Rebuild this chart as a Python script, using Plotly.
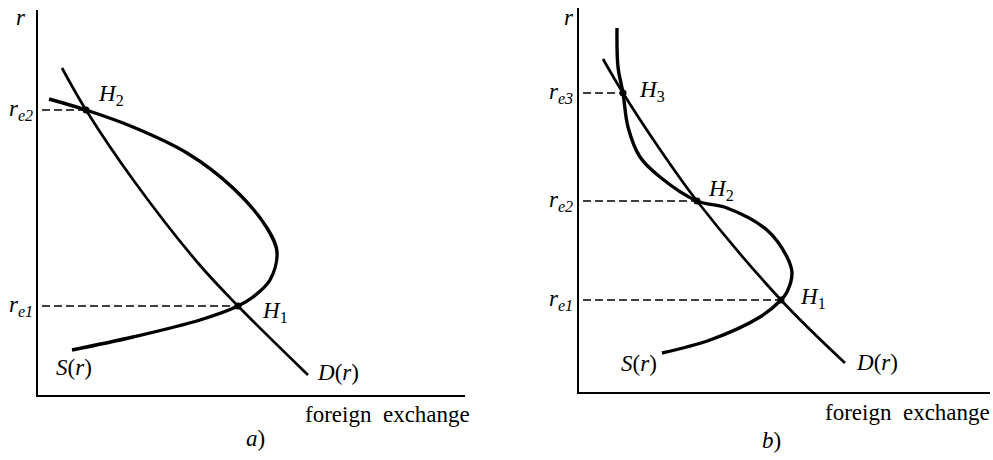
import plotly.graph_objects as go

W, H = 993, 460

# ---------------- data (conceptual units: foreign exchange, r) ----------------
# panel a)
a_D_x = [6, 12, 24, 40, 50, 67.5]
a_D_y = [81.75, 71.25, 53.5, 33, 22.25, 5]
a_S_x = [2.75, 12, 23.75, 37.25, 48.75, 57.25, 59.75, 58, 53.75, 50, 40.5, 23.75, 8.5]
a_S_y = [74, 71.25, 67, 60.5, 51.75, 41.75, 35.75, 28.75, 24.5, 22.25, 18.75, 14.5, 11.25]
a_eq_x = [50, 12]          # H1, H2
a_eq_r = [22.25, 71.25]    # r_e1, r_e2
a_eq_names = ["1", "2"]

# panel b)
b_D_x = [6, 11, 20, 29.5, 50.5, 66.5]
b_D_y = [83.25, 74.75, 61, 47.75, 23, 7.25]
b_S_x = [9.5, 9.75, 11, 12.25, 15.25, 20.25, 29.5, 37, 47, 52, 53.25, 52, 50.5, 45.25, 32.75, 20.75]
b_S_y = [91, 81.25, 74.75, 66.25, 58.75, 53.75, 47.75, 46, 40.5, 33.75, 29.75, 25, 23, 18.75, 13, 9.75]
b_eq_x = [50.5, 29.5, 11]      # H1, H2, H3
b_eq_r = [23, 47.75, 74.75]    # r_e1, r_e2, r_e3
b_eq_names = ["1", "2", "3"]

FONT = "Liberation Serif"
FS = 23

fig = go.Figure()

def px2paper_x(px):
    return px / W

def px2paper_y(py):
    return 1 - py / H

def panel(xa, ya, Dx, Dy, Sx, Sy, eqx, eqr, names, h_offsets, s_lab, d_lab, lab_right_px):
    xs = "x" if xa == 1 else f"x{xa}"
    ys = "y" if ya == 1 else f"y{ya}"
    for ex, er in zip(eqx, eqr):
        fig.add_trace(go.Scatter(x=[1.0, ex], y=[er, er], mode="lines",
                                 line=dict(color="black", width=1.3, dash="8px,4px"),
                                 xaxis=xs, yaxis=ys, showlegend=False, hoverinfo="skip"))
    fig.add_trace(go.Scatter(x=Dx, y=Dy, mode="lines",
                             line=dict(color="black", width=2.7, shape="spline", smoothing=1.0),
                             xaxis=xs, yaxis=ys, showlegend=False))
    fig.add_trace(go.Scatter(x=Sx, y=Sy, mode="lines",
                             line=dict(color="black", width=3.4, shape="spline", smoothing=1.0),
                             xaxis=xs, yaxis=ys, showlegend=False))
    fig.add_trace(go.Scatter(x=eqx, y=eqr, mode="markers",
                             marker=dict(color="black", size=7),
                             xaxis=xs, yaxis=ys, showlegend=False))
    for ex, er, nm, (dx, dy) in zip(eqx, eqr, names, h_offsets):
        fig.add_annotation(x=ex + dx, y=er + dy, xref=xs, yref=ys, xanchor="left", yanchor="middle",
                           text=f"<i>H</i><sub>{nm}</sub>", showarrow=False,
                           font=dict(family=FONT, size=FS, color="black"))
        fig.add_annotation(x=px2paper_x(lab_right_px), y=er, xref="paper", yref=ys,
                           xanchor="right", yanchor="middle",
                           text=f"<i>r</i><sub><i>e{nm}</i></sub>", showarrow=False,
                           font=dict(family=FONT, size=FS, color="black"))
    fig.add_annotation(x=s_lab[0], y=s_lab[1], xref=xs, yref=ys, xanchor="center", yanchor="middle",
                       text="<i>S</i>(<i>r</i>)", showarrow=False,
                       font=dict(family=FONT, size=FS, color="black"))
    fig.add_annotation(x=d_lab[0], y=d_lab[1], xref=xs, yref=ys, xanchor="center", yanchor="middle",
                       text="<i>D</i>(<i>r</i>)", showarrow=False,
                       font=dict(family=FONT, size=FS, color="black"))

panel(1, 1, a_D_x, a_D_y, a_S_x, a_S_y, a_eq_x, a_eq_r, a_eq_names,
      [(5.5, -1.5), (2.5, 3.75)], (8.9, 7), (75.1, 5.75), 35)
panel(2, 2, b_D_x, b_D_y, b_S_x, b_S_y, b_eq_x, b_eq_r, b_eq_names,
      [(4.25, 0.5), (2.25, 2.75), (3.5, 0.5)], (14.9, 7.25), (74.5, 7.5), 575)

for (rx, ry, fx, fy, cap, cx, cy) in [(21, 17, 303, 414, "<i>a</i>)", 255, 438),
                                      (569, 17, 823, 412, "<i>b</i>)", 771, 440)]:
    fig.add_annotation(x=px2paper_x(rx), y=px2paper_y(ry), xref="paper", yref="paper",
                       xanchor="center", yanchor="middle", text="<i>r</i>", showarrow=False,
                       font=dict(family=FONT, size=FS, color="black"))
    fig.add_annotation(x=px2paper_x(fx), y=px2paper_y(fy), xref="paper", yref="paper",
                       xanchor="left", yanchor="middle", text="foreign\u2002exchange", showarrow=False,
                       font=dict(family=FONT, size=23, color="black"))
    fig.add_annotation(x=px2paper_x(cx), y=px2paper_y(cy), xref="paper", yref="paper",
                       xanchor="center", yanchor="middle", text=cap, showarrow=False,
                       font=dict(family=FONT, size=FS, color="black"))

axis_common = dict(showgrid=False, zeroline=False, showticklabels=False, ticks="",
                   showline=True, linecolor="black", linewidth=1.7, mirror=False)

fig.update_layout(
    width=W, height=H, margin=dict(l=0, r=0, t=0, b=0),
    paper_bgcolor="white", plot_bgcolor="white",
    xaxis=dict(domain=[38 / W, 465 / W], range=[0, (465 - 38) / 4], anchor="y", **axis_common),
    yaxis=dict(domain=[1 - 395 / H, 1 - 10 / H], range=[0, (395 - 10) / 4], anchor="x", **axis_common),
    xaxis2=dict(domain=[579 / W, 990 / W], range=[0, (990 - 579) / 4], anchor="y2", **axis_common),
    yaxis2=dict(domain=[1 - 392 / H, 1 - 8 / H], range=[0, (392 - 8) / 4], anchor="x2", **axis_common),
    showlegend=False,
)

fig.write_html("out.html", config={"displayModeBar": False},
               post_script="document.body.style.margin='0';document.body.style.overflow='hidden';")
